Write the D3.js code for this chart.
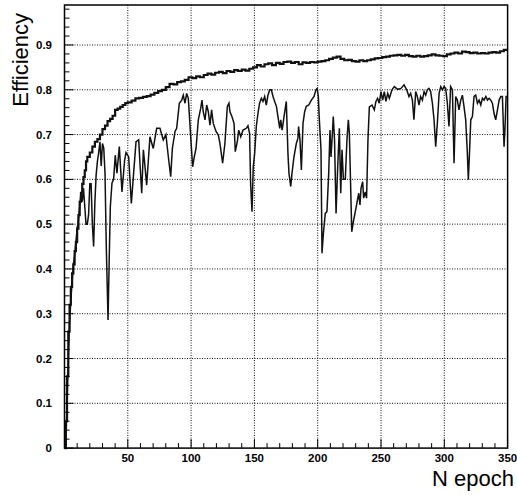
<!DOCTYPE html>
<meta charset="utf-8">
<style>
body { margin: 0; background: #fff; }
.ticklab { font: bold 11.5px "Liberation Sans", Arial, sans-serif; fill: #000; }
.title { font: 22px "Liberation Sans", Arial, sans-serif; fill: #000; }
.grid line { stroke: #111; stroke-width: 1; stroke-dasharray: 1,1.5; }
.frame { fill: none; stroke: #000; stroke-width: 1.5; }
.tick { stroke: #000; stroke-width: 1; }
.upper { fill: none; stroke: #111; stroke-width: 2.2; }
.lower { fill: none; stroke: #111; stroke-width: 1.5; }
</style>
<svg width="517" height="495"></svg>
<script src="https://d3js.org/d3.v7.min.js"></script>
<script>

// upper curve (stepped histogram)
var upperEpoch = [0,1,2,3,4,5,6,7,8,9,10,11,12,13,14,15,16,17,18,20,22,24,26,28,30,32,34,36,38,40,42,44,46,48,50,53,56,59,62,65,68,71,74,77,80,83,86,89,92,95,98,101,104,107,110,113,116,119,122,125,128,131,134,137,140,143,146,149,152,155,158,161,164,167,170,173,176,179,182,185,188,191,194,197,200,203,206,209,212,215,218,221,224,227,230,233,236,239,242,245,248,251,254,257,260,263,266,269,272,275,278,281,284,287,290,293,296,299,302,305,308,311,314,317,320,323,326,329,332,335,338,341,344,347,350];
var upperEff = [0.00,0.06,0.16,0.26,0.32,0.36,0.39,0.41,0.44,0.46,0.49,0.52,0.55,0.57,0.59,0.605,0.62,0.64,0.65,0.66,0.673,0.684,0.69,0.70,0.712,0.72,0.73,0.735,0.742,0.755,0.758,0.762,0.766,0.77,0.772,0.776,0.781,0.782,0.784,0.786,0.789,0.793,0.797,0.80,0.806,0.813,0.812,0.817,0.819,0.822,0.828,0.826,0.83,0.828,0.833,0.836,0.834,0.838,0.84,0.837,0.842,0.840,0.844,0.842,0.845,0.843,0.847,0.850,0.855,0.852,0.857,0.859,0.855,0.86,0.858,0.862,0.863,0.86,0.862,0.857,0.861,0.86,0.862,0.861,0.863,0.864,0.866,0.869,0.872,0.874,0.869,0.866,0.867,0.864,0.863,0.866,0.864,0.866,0.868,0.870,0.871,0.873,0.874,0.876,0.877,0.878,0.876,0.878,0.875,0.874,0.876,0.874,0.875,0.877,0.879,0.877,0.876,0.875,0.879,0.881,0.883,0.881,0.885,0.884,0.882,0.883,0.881,0.882,0.881,0.883,0.884,0.883,0.886,0.889,0.889];

// lower curve (noisy)
var lowerEpoch = [1,2,3,4,5,6,7,8,9,10,11,12,13,14,15,16,17,18,19,20,21,22,23,24,25,26,27,28,29,30,31,32,33,34.4,35.3,36.2,37.5,38.8,40.1,41.4,43.3,45.4,47.5,48.6,50.7,52.8,54.6,56.5,58.6,59.6,61,62.3,63.6,64.9,67.5,70.1,72.8,75.4,78,80.1,82,83.9,85.2,87.3,88.6,90.7,92.6,93.8,95.2,96.5,97.8,99.7,101.2,102.5,103.9,105.7,107.6,108.6,109.6,111,112.3,113.6,114.9,116.2,117.5,119.7,121.5,122.8,124.9,126.7,128.6,129.9,130.7,132.3,133.9,134.9,136.5,137.6,139.2,141,143.6,144.9,146.2,147,148.1,149.1,150.2,151.5,152.8,154.1,155.5,156.8,158.1,159.4,160.7,162.1,163.4,164.7,166,167.4,168.6,170,170.8,171.9,173.4,175.2,176.5,177.3,178.7,179.7,181.3,183.1,184.4,184.9,186,187.1,188.4,189.7,191,192.9,195,197.1,198.6,199.6,200.5,201.3,202.6,203.4,204.5,206,207.3,208.7,209.7,210.5,211.3,212.3,213.3,214.5,215.8,217.1,218.2,219.2,220.3,221.8,223.1,224.2,225,226.1,226.9,228.2,229.7,230.7,232.4,233.4,234.2,235.5,236.3,237.6,238.6,239.7,240.8,242.9,244.7,246,247.3,248.6,250,251.3,252.6,253.9,255.3,256.6,258.7,260.5,263.2,265.8,268.2,270.3,272.1,273.4,274.8,276,277.4,278.7,280,281.3,282.7,284,285.3,286.6,287.9,289.2,290.6,291.9,293.2,294.5,295.9,297.2,298.5,299.8,301.1,302.4,303.7,305,306.4,307.7,309,310.3,311.6,313,314.3,315.6,316.9,318.2,319,320.1,320.9,322.2,323.5,324.8,326.2,327.5,328.8,330.1,331.4,332.8,334.1,335.4,336.7,338,339.3,340.6,342,343.3,344.6,345.9,347.2,348,348.8,349.9];
var lowerEff = [0.00,0.10,0.20,0.28,0.33,0.37,0.41,0.43,0.46,0.49,0.51,0.54,0.57,0.55,0.58,0.54,0.50,0.50,0.52,0.59,0.59,0.50,0.45,0.55,0.61,0.64,0.66,0.684,0.63,0.68,0.67,0.614,0.45,0.286,0.42,0.539,0.592,0.60,0.654,0.614,0.673,0.572,0.643,0.66,0.65,0.546,0.614,0.684,0.688,0.636,0.569,0.666,0.628,0.587,0.695,0.669,0.714,0.714,0.688,0.70,0.651,0.606,0.669,0.707,0.714,0.77,0.777,0.788,0.77,0.792,0.781,0.695,0.628,0.65,0.669,0.733,0.759,0.777,0.751,0.733,0.766,0.751,0.721,0.755,0.725,0.707,0.699,0.68,0.636,0.68,0.762,0.77,0.751,0.74,0.725,0.662,0.684,0.71,0.695,0.71,0.714,0.72,0.703,0.591,0.528,0.628,0.658,0.718,0.747,0.77,0.781,0.774,0.785,0.766,0.788,0.80,0.80,0.785,0.774,0.763,0.74,0.714,0.733,0.71,0.74,0.774,0.658,0.614,0.584,0.614,0.651,0.68,0.692,0.718,0.688,0.621,0.725,0.751,0.763,0.766,0.777,0.785,0.80,0.803,0.785,0.733,0.666,0.435,0.48,0.524,0.528,0.614,0.71,0.65,0.688,0.74,0.688,0.524,0.628,0.714,0.569,0.666,0.60,0.60,0.688,0.733,0.703,0.576,0.483,0.506,0.528,0.543,0.569,0.543,0.58,0.595,0.558,0.572,0.558,0.688,0.762,0.766,0.755,0.774,0.781,0.77,0.796,0.777,0.796,0.774,0.792,0.781,0.80,0.807,0.801,0.803,0.811,0.80,0.785,0.792,0.777,0.733,0.796,0.785,0.766,0.785,0.777,0.796,0.788,0.80,0.803,0.796,0.77,0.733,0.673,0.725,0.792,0.807,0.80,0.807,0.803,0.77,0.718,0.807,0.80,0.636,0.785,0.777,0.755,0.777,0.788,0.762,0.733,0.659,0.599,0.673,0.733,0.74,0.785,0.788,0.77,0.777,0.766,0.781,0.777,0.785,0.777,0.781,0.777,0.77,0.747,0.733,0.755,0.777,0.785,0.785,0.673,0.718,0.785,0.785];

var xTicks = [50,100,150,200,250,300,350];
var yTicks = [0,0.1,0.2,0.3,0.4,0.5,0.6,0.7,0.8,0.9];

var svg = d3.select("svg");
var pLeft = 64.5, pRight = 507.6, pTop = 5, pBottom = 448.1;

var x = d3.scaleLinear().domain([0, 350]).range([pLeft, pRight]);
var y = d3.scaleLinear().domain([0, 0.9893]).range([pBottom, pTop]);

// grid
var grid = svg.append("g").attr("class", "grid");
grid.selectAll(".gx")
  .data(xTicks.filter(function(d) { return d < 350; }))
  .enter().append("line")
    .attr("x1", function(d) { return x(d); })
    .attr("x2", function(d) { return x(d); })
    .attr("y1", pTop).attr("y2", pBottom);
grid.selectAll(".gy")
  .data(yTicks.filter(function(d) { return d > 0; }))
  .enter().append("line")
    .attr("y1", function(d) { return y(d); })
    .attr("y2", function(d) { return y(d); })
    .attr("x1", pLeft).attr("x2", pRight);

// curves
var upperLine = d3.line()
    .x(function(d, i) { return x(upperEpoch[i]); })
    .y(function(d) { return y(d); })
    .curve(d3.curveStepAfter);
svg.append("path").attr("class", "upper").attr("d", upperLine(upperEff));

var lowerLine = d3.line()
    .x(function(d, i) { return x(lowerEpoch[i]); })
    .y(function(d) { return y(d); });
svg.append("path").attr("class", "lower").attr("d", lowerLine(lowerEff));

// ticks, pointing inward (ROOT style)
var minorX = d3.range(0, 351, 10), minorY = d3.range(0, 0.99, 0.02);
svg.append("g").selectAll("line")
  .data(minorX)
  .enter().append("line")
    .attr("class", "tick")
    .attr("x1", function(d) { return x(d); })
    .attr("x2", function(d) { return x(d); })
    .attr("y1", pBottom)
    .attr("y2", function(d) { return d % 50 === 0 ? pBottom - 9 : pBottom - 5; });
svg.append("g").selectAll("line")
  .data(minorY)
  .enter().append("line")
    .attr("class", "tick")
    .attr("y1", function(d) { return y(d); })
    .attr("y2", function(d) { return y(d); })
    .attr("x1", pLeft)
    .attr("x2", function(d, i) { return i % 5 === 0 ? pLeft + 9 : pLeft + 5; });

svg.append("rect").attr("class", "frame")
    .attr("x", pLeft).attr("y", pTop)
    .attr("width", pRight - pLeft).attr("height", pBottom - pTop);

// labels
svg.append("g").selectAll("text")
  .data(xTicks)
  .enter().append("text")
    .attr("class", "ticklab")
    .attr("x", function(d) { return x(d); })
    .attr("y", 462)
    .attr("text-anchor", "middle")
    .text(function(d) { return d; });
svg.append("g").selectAll("text")
  .data(yTicks)
  .enter().append("text")
    .attr("class", "ticklab")
    .attr("x", 52)
    .attr("y", function(d) { return y(d) + 4; })
    .attr("text-anchor", "end")
    .text(function(d) { return d; });

svg.append("text").attr("class", "title")
    .attr("x", 514).attr("y", 486)
    .attr("text-anchor", "end")
    .text("N epoch");
svg.append("text").attr("class", "title")
    .attr("transform", "translate(28,13) rotate(-90)")
    .attr("text-anchor", "end")
    .text("Efficiency");

</script>
